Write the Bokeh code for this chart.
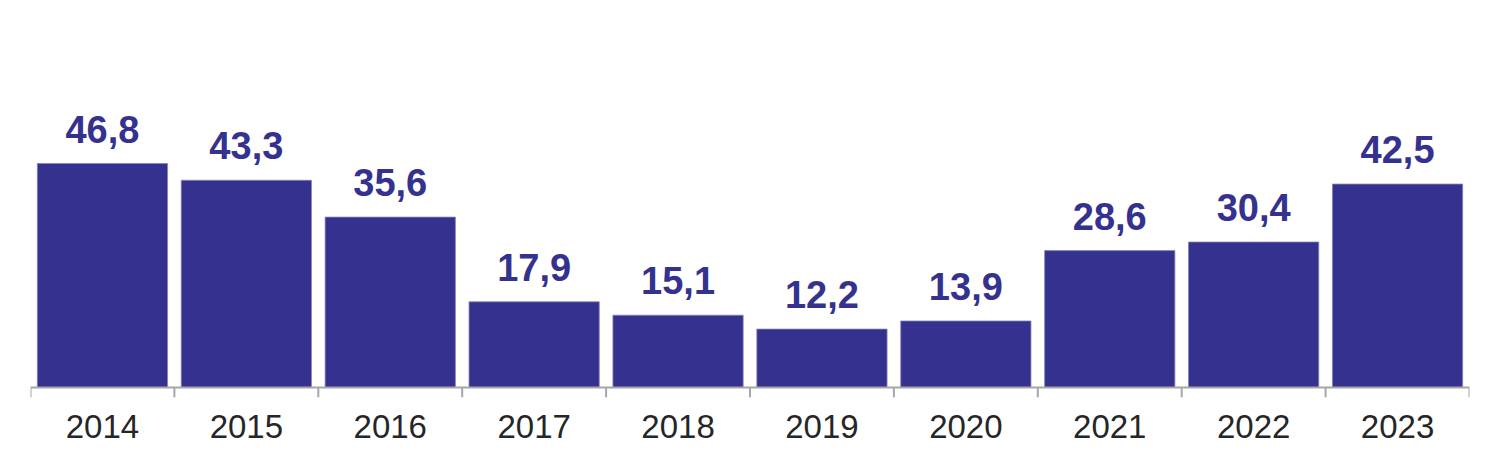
from bokeh.plotting import figure
from bokeh.models import ColumnDataSource, FixedTicker, Range1d
from bokeh.core.properties import value
from bokeh.embed import file_html
from bokeh.resources import INLINE

years = ["2014", "2015", "2016", "2017", "2018", "2019", "2020", "2021", "2022", "2023"]
values = [46.8, 43.3, 35.6, 17.9, 15.1, 12.2, 13.9, 28.6, 30.4, 42.5]

n = len(years)
xs = [i + 0.5 for i in range(n)]
labels = [f"{v:.1f}".replace(".", ",") for v in values]
src = ColumnDataSource(dict(x=xs, top=values, label=labels))

BAR = "#35318F"
AXIS = "#A6A6A6"
FONT = "Liberation Sans"

p = figure(width=1484, height=460, output_backend="svg", toolbar_location=None,
           x_range=Range1d(0, n), y_range=Range1d(-2.09, 80.86),
           min_border_left=30, min_border_right=15, min_border_top=0, min_border_bottom=63)
p.outline_line_color = None
p.grid.visible = False
p.yaxis.visible = False
p.background_fill_color = "white"
p.border_fill_color = "white"

p.vbar(x="x", top="top", bottom=0, width=0.905, source=src,
       fill_color=BAR, line_color="#8583B5", line_width=0.8)

# axis baseline and boundary ticks
p.segment(x0=[0], y0=[0], x1=[n], y1=[0], line_color=AXIS, line_width=2)
p.segment(x0=list(range(n + 1)), y0=[0] * (n + 1), x1=list(range(n + 1)), y1=[-2.09] * (n + 1),
          line_color=AXIS, line_width=2)

p.text(x="x", y="top", text="label", source=src, y_offset=-21,
       text_align="center", text_baseline="bottom",
       text_font=value(FONT), text_font_style="bold", text_font_size="38px",
       text_color=BAR)

ax = p.xaxis[0]
ax.ticker = FixedTicker(ticks=xs)
ax.major_label_overrides = {x: y for x, y in zip(xs, years)}
ax.axis_line_color = None
ax.major_tick_line_color = None
ax.minor_tick_line_color = None
ax.major_label_standoff = 11
ax.major_label_text_font = FONT
ax.major_label_text_font_size = "33px"
ax.major_label_text_color = "#262626"

open("out.html", "w").write(file_html(p, INLINE))
